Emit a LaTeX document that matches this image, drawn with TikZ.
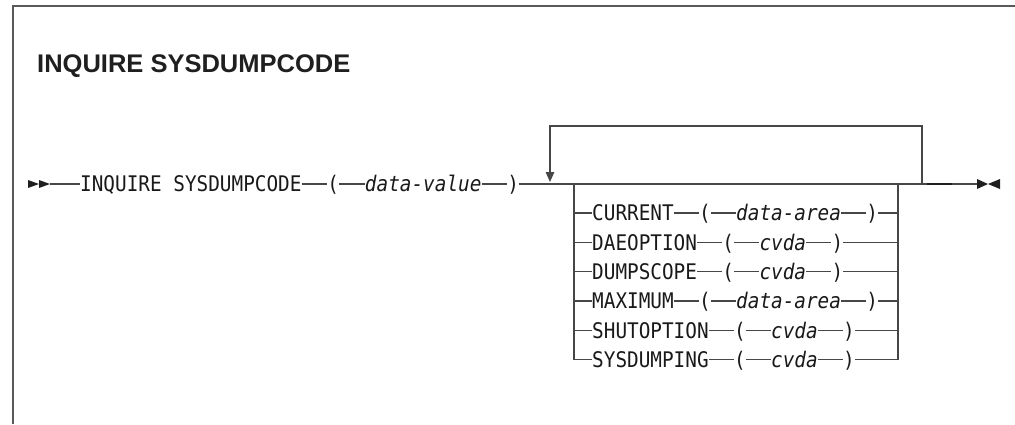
\documentclass[tikz,border=0pt]{standalone}
\usepackage{fontspec}
\newfontfamily\synfont[FakeStretch=0.9]{DejaVu Sans Mono}
\newfontfamily\headfont{Liberation Sans}
\newcommand\synsize{\fontsize{21.5}{25}\selectfont}
\usetikzlibrary{arrows.meta,positioning}
\begin{document}
\begin{tikzpicture}[x=1pt,y=-1pt,
  ln/.style={line width=1.3pt, draw=black!72},
  kw/.style={inner sep=0pt, anchor=west, text height=15.6pt, text depth=0pt, font=\synsize\synfont, text=black!90},
  var/.style={kw, font=\synsize\synfont\itshape},
  tipfill/.style={fill=black!88}]
\useasboundingbox (0,0) rectangle (1015,424);
% frame
\draw[line width=1.5pt, draw=black!65] (13,424) -- (13,6) -- (1015,6);
% title
\node[anchor=base west, inner sep=0pt, text=black!88, font={\headfont\bfseries\fontsize{25.5}{30}\selectfont}] (title) at (37,72) {INQUIRE SYSDUMPCODE};
% start marker
\fill[tipfill] (28,180) -- (39,184) -- (28,188) -- cycle;
\fill[tipfill] (39,180) -- (50,184) -- (39,188) -- cycle;
\coordinate (s) at (50,184);
% main row
\node[kw] (cmd) at (80,184) {INQUIRE SYSDUMPCODE};
\node[kw, right=25.5pt of cmd] (lp0) {(};
\node[var, right=25.5pt of lp0] (dv) {data-value};
\node[kw, right=25.5pt of dv] (rp0) {)};
\coordinate (e) at (977,184);
\draw[ln] (s) -- (cmd) -- (lp0) -- (dv) -- (rp0) -- (e);
\draw[line width=2.6pt, draw=black!88] (927,184) -- (952,184);
% end marker
\fill[tipfill] (977,179) -- (988,184) -- (977,189) -- cycle;
\fill[tipfill] (1000,179) -- (988,184) -- (1000,189) -- cycle;
% repeat loop
\coordinate (lr) at (922,184);
\coordinate (ll) at (550,184);
\draw[ln, shorten >=2pt, -{Triangle[length=10pt,width=8.5pt]}] (lr) -- (922,126) -| (ll);
% choice rows
\coordinate (jl) at (574,184);
\coordinate (jr) at (898,184);
\foreach \n/\y/\k/\v in {1/213/CURRENT/data-area, 2/242.3/DAEOPTION/cvda, 3/271.6/DUMPSCOPE/cvda, 4/300.9/MAXIMUM/data-area, 5/330.2/SHUTOPTION/cvda, 6/359.5/SYSDUMPING/cvda} {
  \node[kw] (k\n) at (592,\y) {\k};
  \node[kw, right=25pt of k\n] (l\n) {(};
  \node[var, right=25pt of l\n] (v\n) {\v};
  \node[kw, right=25pt of v\n] (r\n) {)};
  \coordinate (cl\n) at (574,\y);
  \coordinate (cr\n) at (898,\y);
  \draw[ln] (cl\n) -- (k\n) -- (l\n) -- (v\n) -- (r\n) -- (cr\n);
}
\draw[ln] (jl) |- (k6);
\draw[ln] (jr) |- (r6);
\end{tikzpicture}
\end{document}
